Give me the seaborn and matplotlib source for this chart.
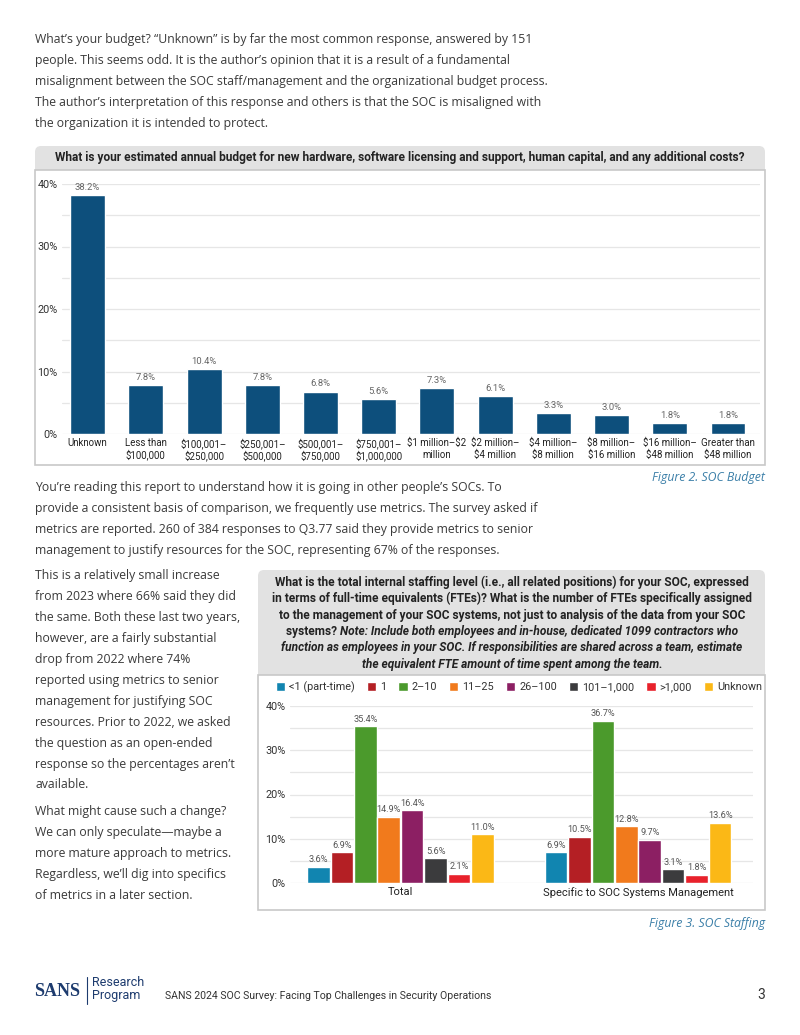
import numpy as np
import pandas as pd
import seaborn as sns
import matplotlib.pyplot as plt
from matplotlib.patches import FancyBboxPatch, Rectangle

# ---------------------------------------------------------------
# data
# ---------------------------------------------------------------
budget_labels = ['Unknown', 'Less than\n$100,000', '$100,001–\n$250,000', '$250,001–\n$500,000',
                 '$500,001–\n$750,000', '$750,001–\n$1,000,000', '$1 million–$2\nmillion',
                 '$2 million–\n$4 million', '$4 million–\n$8 million', '$8 million–\n$16 million',
                 '$16 million–\n$48 million', 'Greater than\n$48 million']
budget_values = [38.2, 7.8, 10.4, 7.8, 6.8, 5.6, 7.3, 6.1, 3.3, 3.0, 1.8, 1.8]

staff_groups = ['Total', 'Specific to SOC Systems Management']
staff_levels = ['<1 (part-time)', '1', '2–10', '11–25', '26–100', '101–1,000', '>1,000', 'Unknown']
staff_total = [3.6, 6.9, 35.4, 14.9, 16.4, 5.6, 2.1, 11.0]
staff_specific = [6.9, 10.5, 36.7, 12.8, 9.7, 3.1, 1.8, 13.6]
staff_colors = ['#1185b0', '#b41f24', '#4b9a2c', '#f17a1c', '#8c1f63', '#3b3b3d', '#e8212b', '#fbb816']

body_font = ['Open Sans', 'DejaVu Sans']
chart_font = ['Roboto', 'DejaVu Sans']
text_col = '#3a3a3a'

sns.set_theme(style='white')
plt.rcParams['font.family'] = body_font
plt.rcParams['text.parse_math'] = False   # dollar signs in the labels

W, H = 800, 1035
fig = plt.figure(figsize=(W / 100, H / 100), dpi=100)
fig.set_facecolor('white')

# page overlay in pixel coordinates
page = fig.add_axes([0, 0, 1, 1], zorder=0)
page.set_xlim(0, W)
page.set_ylim(H, 0)
page.axis('off')


def px_axes(x0, y0, x1, y1):
    return fig.add_axes([x0 / W, 1 - y1 / H, (x1 - x0) / W, (y1 - y0) / H], zorder=2)


def para(lines, x, y0, step, size=8.8):
    for i, ln in enumerate(lines):
        page.text(x, y0 + i * step, ln, fontsize=size, color=text_col, va='center', ha='left',
                  family=body_font)


# ---------------------------------------------------------------
# body text
# ---------------------------------------------------------------
para(['What’s your budget? “Unknown” is by far the most common response, answered by 151',
      'people. This seems odd. It is the author’s opinion that it is a result of a fundamental',
      'misalignment between the SOC staff/management and the organizational budget process.',
      'The author’s interpretation of this response and others is that the SOC is misaligned with',
      'the organization it is intended to protect.'], 35, 40, 20.9)

para(['You’re reading this report to understand how it is going in other people’s SOCs. To',
      'provide a consistent basis of comparison, we frequently use metrics. The survey asked if',
      'metrics are reported. 260 of 384 responses to Q3.77 said they provide metrics to senior',
      'management to justify resources for the SOC, representing 67% of the responses.'], 35, 488, 20.7)

para(['This is a relatively small increase', 'from 2023 where 66% said they did',
      'the same. Both these last two years,', 'however, are a fairly substantial',
      'drop from 2022 where 74%', 'reported using metrics to senior',
      'management for justifying SOC', 'resources. Prior to 2022, we asked',
      'the question as an open-ended', 'response so the percentages aren’t', 'available.'],
     35, 576, 20.9)
para(['What might cause such a change?', 'We can only speculate—maybe a',
      'more mature approach to metrics.', 'Regardless, we’ll dig into specifics',
      'of metrics in a later section.'], 35, 812, 20.8)

# ---------------------------------------------------------------
# chart 1 frame + title
# ---------------------------------------------------------------
page.add_patch(FancyBboxPatch((35, 146), 730, 30, boxstyle='round,pad=0,rounding_size=6',
                              fc='#e2e2e2', ec='none'))
page.add_patch(Rectangle((35, 170), 730, 295, fc='white', ec='#c8c8c8', lw=1.2))
page.text(400, 157, 'What is your estimated annual budget for new hardware, software licensing and support, '
          'human capital, and any additional costs?', fontsize=8.6, fontweight='bold', color='#222222',
          ha='center', va='center', family=chart_font)
page.text(765, 477, 'Figure 2. SOC Budget', fontsize=8.8, style='italic', color='#3b7fa8',
          ha='right', va='center')

df_budget = pd.DataFrame({'range': budget_labels, 'pct': budget_values})
ax1 = px_axes(62, 184, 760, 434)
sns.barplot(data=df_budget, x='range', y='pct', color='#0d4f7c', saturation=1, width=0.6, ax=ax1, zorder=3)
for bar, v in zip(ax1.patches, budget_values):
    ax1.text(bar.get_x() + bar.get_width() / 2, v + 0.5, f'{v:.1f}%', ha='center', va='bottom',
             fontsize=6.8, color='#666666', family=chart_font)
ax1.set_ylim(0, 40)
ax1.set_xlim(-0.44, 11.55)
ax1.set_yticks(np.arange(0, 45, 10))
ax1.set_yticks(np.arange(5, 40, 10), minor=True)
ax1.set_yticklabels([f'{t}%' for t in range(0, 45, 10)])
ax1.grid(axis='y', which='both', color='#e6e6e6', lw=0.9, zorder=0)
ax1.set_xlabel('')
ax1.set_ylabel('')
for s in ax1.spines.values():
    s.set_visible(False)
ax1.tick_params(axis='y', length=0, pad=3, labelsize=7.8, labelcolor='#333333')
ax1.tick_params(axis='x', length=0, pad=3, labelsize=7.0, labelcolor='#222222')
for lab in ax1.get_xticklabels() + ax1.get_yticklabels():
    lab.set_family(chart_font)
    lab.set_linespacing(1.15)
ax1.set_facecolor('none')

# ---------------------------------------------------------------
# chart 2 frame + title
# ---------------------------------------------------------------
page.add_patch(FancyBboxPatch((258, 570), 507, 115, boxstyle='round,pad=0,rounding_size=6',
                              fc='#e2e2e2', ec='none'))
page.add_patch(Rectangle((258, 675), 507, 235, fc='white', ec='#c8c8c8', lw=1.2))

title_bold = ['What is the total internal staffing level (i.e., all related positions) for your SOC, expressed',
              'in terms of full-time equivalents (FTEs)? What is the number of FTEs specifically assigned',
              'to the management of your SOC systems, not just to analysis of the data from your SOC']
title_ital = ['function as employees in your SOC. If responsibilities are shared across a team, estimate',
              'the equivalent FTE amount of time spent among the team.']
ty = [582, 598.5, 615, 631.5, 648, 664.5]
for i, ln in enumerate(title_bold):
    page.text(512, ty[i], ln, fontsize=8.6, fontweight='bold', color='#222222', ha='center',
              va='center', family=chart_font)
for i, ln in enumerate(title_ital):
    page.text(512, ty[4 + i], ln, fontsize=8.6, fontweight='bold', style='italic', color='#222222',
              ha='center', va='center', family=chart_font)
# mixed line: bold lead + bold italic note, centred as a whole
t_a = page.text(0, ty[3], 'systems? ', fontsize=8.6, fontweight='bold', color='#222222',
                ha='left', va='center', family=chart_font)
t_b = page.text(0, ty[3], 'Note: Include both employees and in-house, dedicated 1099 contractors who',
                fontsize=8.6, fontweight='bold', style='italic', color='#222222', ha='left',
                va='center', family=chart_font)
r = fig.canvas.get_renderer()
wa = t_a.get_window_extent(r).width
wb = t_b.get_window_extent(r).width
x_start = 512 - (wa + wb) / 2
t_a.set_x(x_start)
t_b.set_x(x_start + wa)

page.text(765, 924, 'Figure 3. SOC Staffing', fontsize=8.8, style='italic', color='#3b7fa8',
          ha='right', va='center')

df_staff = pd.DataFrame({
    'group': np.repeat(staff_groups, len(staff_levels)),
    'level': staff_levels * 2,
    'pct': staff_total + staff_specific,
})
ax2 = px_axes(290, 706, 753, 883)
sns.barplot(data=df_staff, x='group', y='pct', hue='level', hue_order=staff_levels,
            palette=staff_colors, saturation=1, width=0.79, gap=0.04, ax=ax2, zorder=3)
for cont in ax2.containers:
    for bar in cont:
        v = bar.get_height()
        ax2.text(bar.get_x() + bar.get_width() / 2, v + 0.6, f'{v:.1f}%', ha='center', va='bottom',
                 fontsize=6.6, color='#555555', family=chart_font)
ax2.set_ylim(0, 40)
ax2.set_xlim(-0.465, 1.484)
ax2.set_yticks(np.arange(0, 45, 10))
ax2.set_yticks(np.arange(5, 40, 10), minor=True)
ax2.set_yticklabels([f'{t}%' for t in range(0, 45, 10)])
ax2.grid(axis='y', which='both', color='#e6e6e6', lw=0.9, zorder=0)
ax2.set_xlabel('')
ax2.set_ylabel('')
for s in ax2.spines.values():
    s.set_visible(False)
ax2.tick_params(axis='y', length=0, pad=3, labelsize=7.8, labelcolor='#333333')
ax2.tick_params(axis='x', length=0, pad=3, labelsize=8, labelcolor='#222222')
for lab in ax2.get_xticklabels() + ax2.get_yticklabels():
    lab.set_family(chart_font)
ax2.set_facecolor('none')

handles, labels = ax2.get_legend_handles_labels()
ax2.get_legend().remove()
leg = fig.legend(handles, labels, loc='center left', ncol=8, mode='expand',
                 bbox_to_anchor=(276 / W, 1 - 687 / H, (762 - 276) / W, 0.0), frameon=False,
                 handlelength=0.85, handleheight=0.85, handletextpad=0.35, borderaxespad=0,
                 borderpad=0, prop={'family': chart_font, 'size': 7.8})
for t in leg.get_texts():
    t.set_color('#333333')

# ---------------------------------------------------------------
# footer
# ---------------------------------------------------------------
page.text(34, 991, 'SANS', fontsize=13, fontweight='bold', family=['Liberation Serif', 'DejaVu Serif'],
          color='#1d3b6e', ha='left', va='center')
page.plot([87, 87], [977, 1004], color='#1d3b6e', lw=0.8)
page.text(92, 983, 'Research', fontsize=9, color='#1d3b6e', ha='left', va='center', family=chart_font)
page.text(92, 996, 'Program', fontsize=9, color='#1d3b6e', ha='left', va='center', family=chart_font)
page.text(165, 996, 'SANS 2024 SOC Survey: Facing Top Challenges in Security Operations', fontsize=7.6,
          color='#333333', ha='left', va='center', family=chart_font)
page.text(765, 995, '3', fontsize=10, color='#333333', ha='right', va='center', family=chart_font)

fig.savefig('out.png', dpi=100, facecolor='white')
